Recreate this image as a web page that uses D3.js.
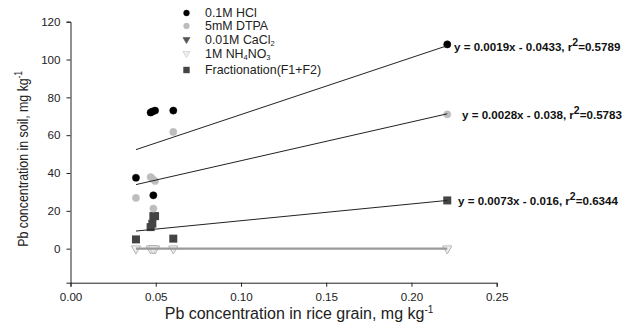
<!DOCTYPE html>
<html>
<head>
<meta charset="utf-8">
<script src="https://cdn.jsdelivr.net/npm/d3@7"></script>
<style>
  body { margin: 0; background: #fff; }
  svg { font-family: "Liberation Sans", Arial, sans-serif; }
  .tick text { font-size: 11.6px; fill: #222; }
  .eq { font-size: 11.6px; font-weight: bold; fill: #111; }
</style>
</head>
<body>
<div id="chart"></div>
<script>
// grain Pb (x) for each sample
const grain = [0.0384, 0.047, 0.048, 0.0496, 0.0486, 0.0603, 0.221];

const hcl    = [37.5, 72, 72.5, 73, 28.2, 73, 108];
const dtpa   = [26.8, 37.9, 37, 35.8, 21.2, 61.7, 71];
const cacl2  = [0, 0, 0, 0, 0, 0, 0];
const nh4no3 = [0, 0, 0, 0, 0, 0, 0];
const fract  = [4.9, 11.4, 13.2, 17.2, 17.2, 5.3, 25.5];

// fitted lines: [slope, intercept]
const fitHcl = [301, 40.8];
const fitDtpa = [205, 26.0];
const fitFract = [88.7, 5.9];
const fitZero = [0, 0];

const equations = [
  "y = 0.0019x - 0.0433, r|0.5789",
  "y = 0.0028x - 0.038, r|0.5783",
  "y = 0.0073x - 0.016, r|0.6344"
];

const xTicks = [0, 0.05, 0.10, 0.15, 0.20, 0.25];
const yTicks = [0, 20, 40, 60, 80, 100, 120];

const width = 636, height = 331;
const margin = { left: 70.5, top: 21.7, right: 139.3, bottom: 48.3 };

const svg = d3.select('#chart').append('svg')
  .attr('width', width)
  .attr('height', height);

const x = d3.scaleLinear()
  .domain([0, 0.25])
  .range([margin.left, width - margin.right]);

const y = d3.scaleLinear()
  .domain([-18, 120])
  .range([height - margin.bottom, margin.top]);

const xAxis = d3.axisBottom(x).tickValues(xTicks).tickFormat(d3.format('.2f')).tickSize(4).tickPadding(6);
const yAxis = d3.axisLeft(y).tickValues(yTicks).tickSize(4).tickPadding(6);

svg.append('g')
  .attr('transform', 'translate(0,' + (height - margin.bottom) + ')')
  .call(xAxis)
  .call(g => g.select('.domain').attr('stroke', '#222'))
  .call(g => g.selectAll('.tick line').attr('stroke', '#222'));

svg.append('g')
  .attr('transform', 'translate(' + margin.left + ',0)')
  .call(yAxis)
  .call(g => g.select('.domain').attr('stroke', '#222'))
  .call(g => g.selectAll('.tick line').attr('stroke', '#222'));

const tri = d3.symbol().type(d3.symbolTriangle).size(34);
const sq = d3.symbol().type(d3.symbolSquare).size(64);

const series = [
  { name: '0.1M HCl', vals: hcl, kind: 'circle', fill: '#000', stroke: '#000' },
  { name: '5mM DTPA', vals: dtpa, kind: 'circle', fill: '#bdbdbd', stroke: '#bdbdbd' },
  { name: '0.01M CaCl', sub: '2', vals: cacl2, kind: 'tri', fill: '#555', stroke: '#555' },
  { name: '1M NH', sub: '4', after: 'NO', sub2: '3', vals: nh4no3, kind: 'tri', fill: '#eeeeee', stroke: '#c4c4c4' },
  { name: 'Fractionation(F1+F2)', vals: fract, kind: 'square', fill: '#444', stroke: '#444' }
];

function drawMark(g, s, px, py, scale) {
  if (s.kind === 'circle') {
    g.append('circle').attr('cx', px).attr('cy', py).attr('r', 3.6 * scale)
      .attr('fill', s.fill).attr('stroke', s.stroke).attr('stroke-width', 0.5);
  } else if (s.kind === 'tri') {
    g.append('path').attr('d', tri.size(34 * scale * scale)())
      .attr('transform', 'translate(' + px + ',' + py + ') rotate(180)')
      .attr('fill', s.fill).attr('stroke', s.stroke).attr('stroke-width', 0.6);
  } else {
    g.append('path').attr('d', sq.size(64 * scale * scale)())
      .attr('transform', 'translate(' + px + ',' + py + ')')
      .attr('fill', s.fill);
  }
}

// draw order: triangles, squares, dtpa, hcl
const order = [2, 3, 4, 1, 0];
const pts = svg.append('g');
order.forEach(i => {
  const s = series[i];
  s.vals.forEach((v, j) => drawMark(pts, s, x(grain[j]), y(v), 1));
});

// fit lines
const x0 = d3.min(grain), x1 = d3.max(grain);
const fits = [
  { f: fitZero, color: '#999', w: 2.2 },
  { f: fitHcl, color: '#222', w: 1 },
  { f: fitDtpa, color: '#222', w: 1 },
  { f: fitFract, color: '#222', w: 1 }
];
svg.append('g').selectAll('line').data(fits).join('line')
  .attr('x1', x(x0))
  .attr('x2', x(x1))
  .attr('y1', d => y(d.f[0] * x0 + d.f[1]))
  .attr('y2', d => y(d.f[0] * x1 + d.f[1]))
  .attr('stroke', d => d.color)
  .attr('stroke-width', d => d.w);

// legend
const legRows = [13, 26, 39.5, 53.5, 70];
const leg = svg.append('g');
series.forEach((s, i) => {
  const ly = legRows[i];
  drawMark(leg, s, 186.5, ly, 0.8);
  const t = leg.append('text').attr('x', 205).attr('y', ly + 4)
    .style('font-size', '12.4px').attr('fill', '#222');
  t.append('tspan').text(s.name);
  if (s.sub) t.append('tspan').attr('dy', 2.5).style('font-size', '7.5px').text(s.sub);
  if (s.after) t.append('tspan').attr('dy', -2.5).text(s.after);
  if (s.sub2) t.append('tspan').attr('dy', 2.5).style('font-size', '7.5px').text(s.sub2);
});

// equations
const eqPos = [
  { x: 454, f: fitHcl },
  { x: 462, f: fitDtpa },
  { x: 458, f: fitFract }
];
equations.forEach((e, i) => {
  const parts = e.split('|');
  const ey = y(eqPos[i].f[0] * x1 + eqPos[i].f[1]) + 5;
  const t = svg.append('text').attr('class', 'eq').attr('x', eqPos[i].x).attr('y', ey);
  t.append('tspan').text(parts[0]);
  t.append('tspan').attr('dy', -5).style('font-size', '10.5px').text('2');
  t.append('tspan').attr('dy', 5).text('=' + parts[1]);
});

// axis titles
const xt = svg.append('text').attr('x', 299).attr('y', 319)
  .attr('text-anchor', 'middle').style('font-size', '16px').attr('fill', '#222');
xt.append('tspan').text('Pb concentration in rice grain, mg kg');
xt.append('tspan').attr('dy', -6).style('font-size', '10px').text('-1');

const yt = svg.append('text')
  .attr('transform', 'translate(28,159) rotate(-90) scale(0.8,1)')
  .attr('text-anchor', 'middle').style('font-size', '15.5px').attr('fill', '#222');
yt.append('tspan').text('Pb concentration in soil, mg kg');
yt.append('tspan').attr('dy', -6).style('font-size', '10px').text('-1');
</script>
</body>
</html>
